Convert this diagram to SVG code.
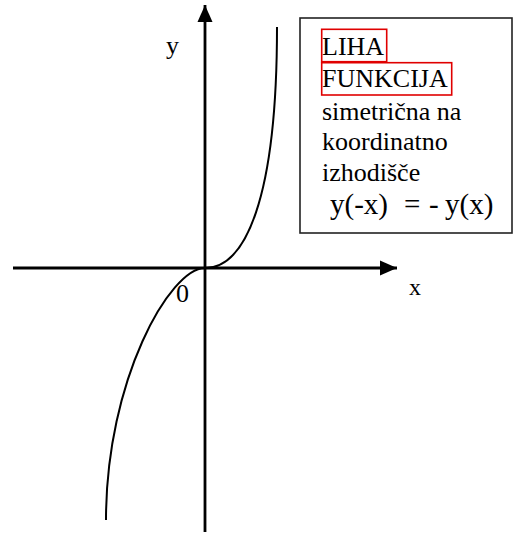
<svg xmlns="http://www.w3.org/2000/svg" width="513" height="533" viewBox="0 0 513 533">
<style>
.t{font-family:"Liberation Serif","Times New Roman",serif;fill:#000}
.ax{stroke:#000;stroke-width:2.8;fill:none}
.cv{stroke:#000;stroke-width:2;fill:none}
.hl{stroke:#e00000;stroke-width:1.6;fill:none}
</style>
<defs>
<marker id="arr" markerUnits="userSpaceOnUse" markerWidth="18" markerHeight="16" refX="17" refY="8" orient="auto"><path d="M0,0.5 L17,8 L0,15.5 Z" fill="#000"/></marker>
</defs>
<rect width="513" height="533" fill="#fff"/>
<g id="connectors">
<line id="x-axis" class="ax" x1="13" y1="268" x2="397" y2="268" marker-end="url(#arr)"/>
<line id="y-axis" class="ax" x1="205" y1="532" x2="205" y2="5" marker-end="url(#arr)"/>
<path id="curve" class="cv" d="M106,520 C106,380 170,268 205,268 C245,268 277,200 277,27"/>
</g>
<g id="labels">
<text class="t" x="166" y="54" font-size="26">y</text>
<text class="t" x="409" y="295" font-size="24">x</text>
<text class="t" x="176" y="302" font-size="26">0</text>
</g>
<g id="info-box">
<rect x="300" y="18" width="212" height="215" fill="#fff" stroke="#222" stroke-width="1.6"/>
<rect class="hl" x="321.7" y="29.3" width="65" height="32.4"/>
<rect class="hl" x="321.7" y="62.7" width="130" height="32.3"/>
<text class="t" font-size="26" x="322" y="55">LIHA</text>
<text class="t" font-size="26" x="322" y="87">FUNKCIJA</text>
<text class="t" font-size="26" x="322" y="120">simetrična na</text>
<text class="t" font-size="26" x="322" y="150">koordinatno</text>
<text class="t" font-size="26" x="322" y="181">izhodišče</text>
<text class="t" font-size="29" y="214"><tspan x="330">y(-x)</tspan><tspan x="404">=</tspan><tspan x="429">-</tspan><tspan x="445">y(x)</tspan></text>
</g>
</svg>
